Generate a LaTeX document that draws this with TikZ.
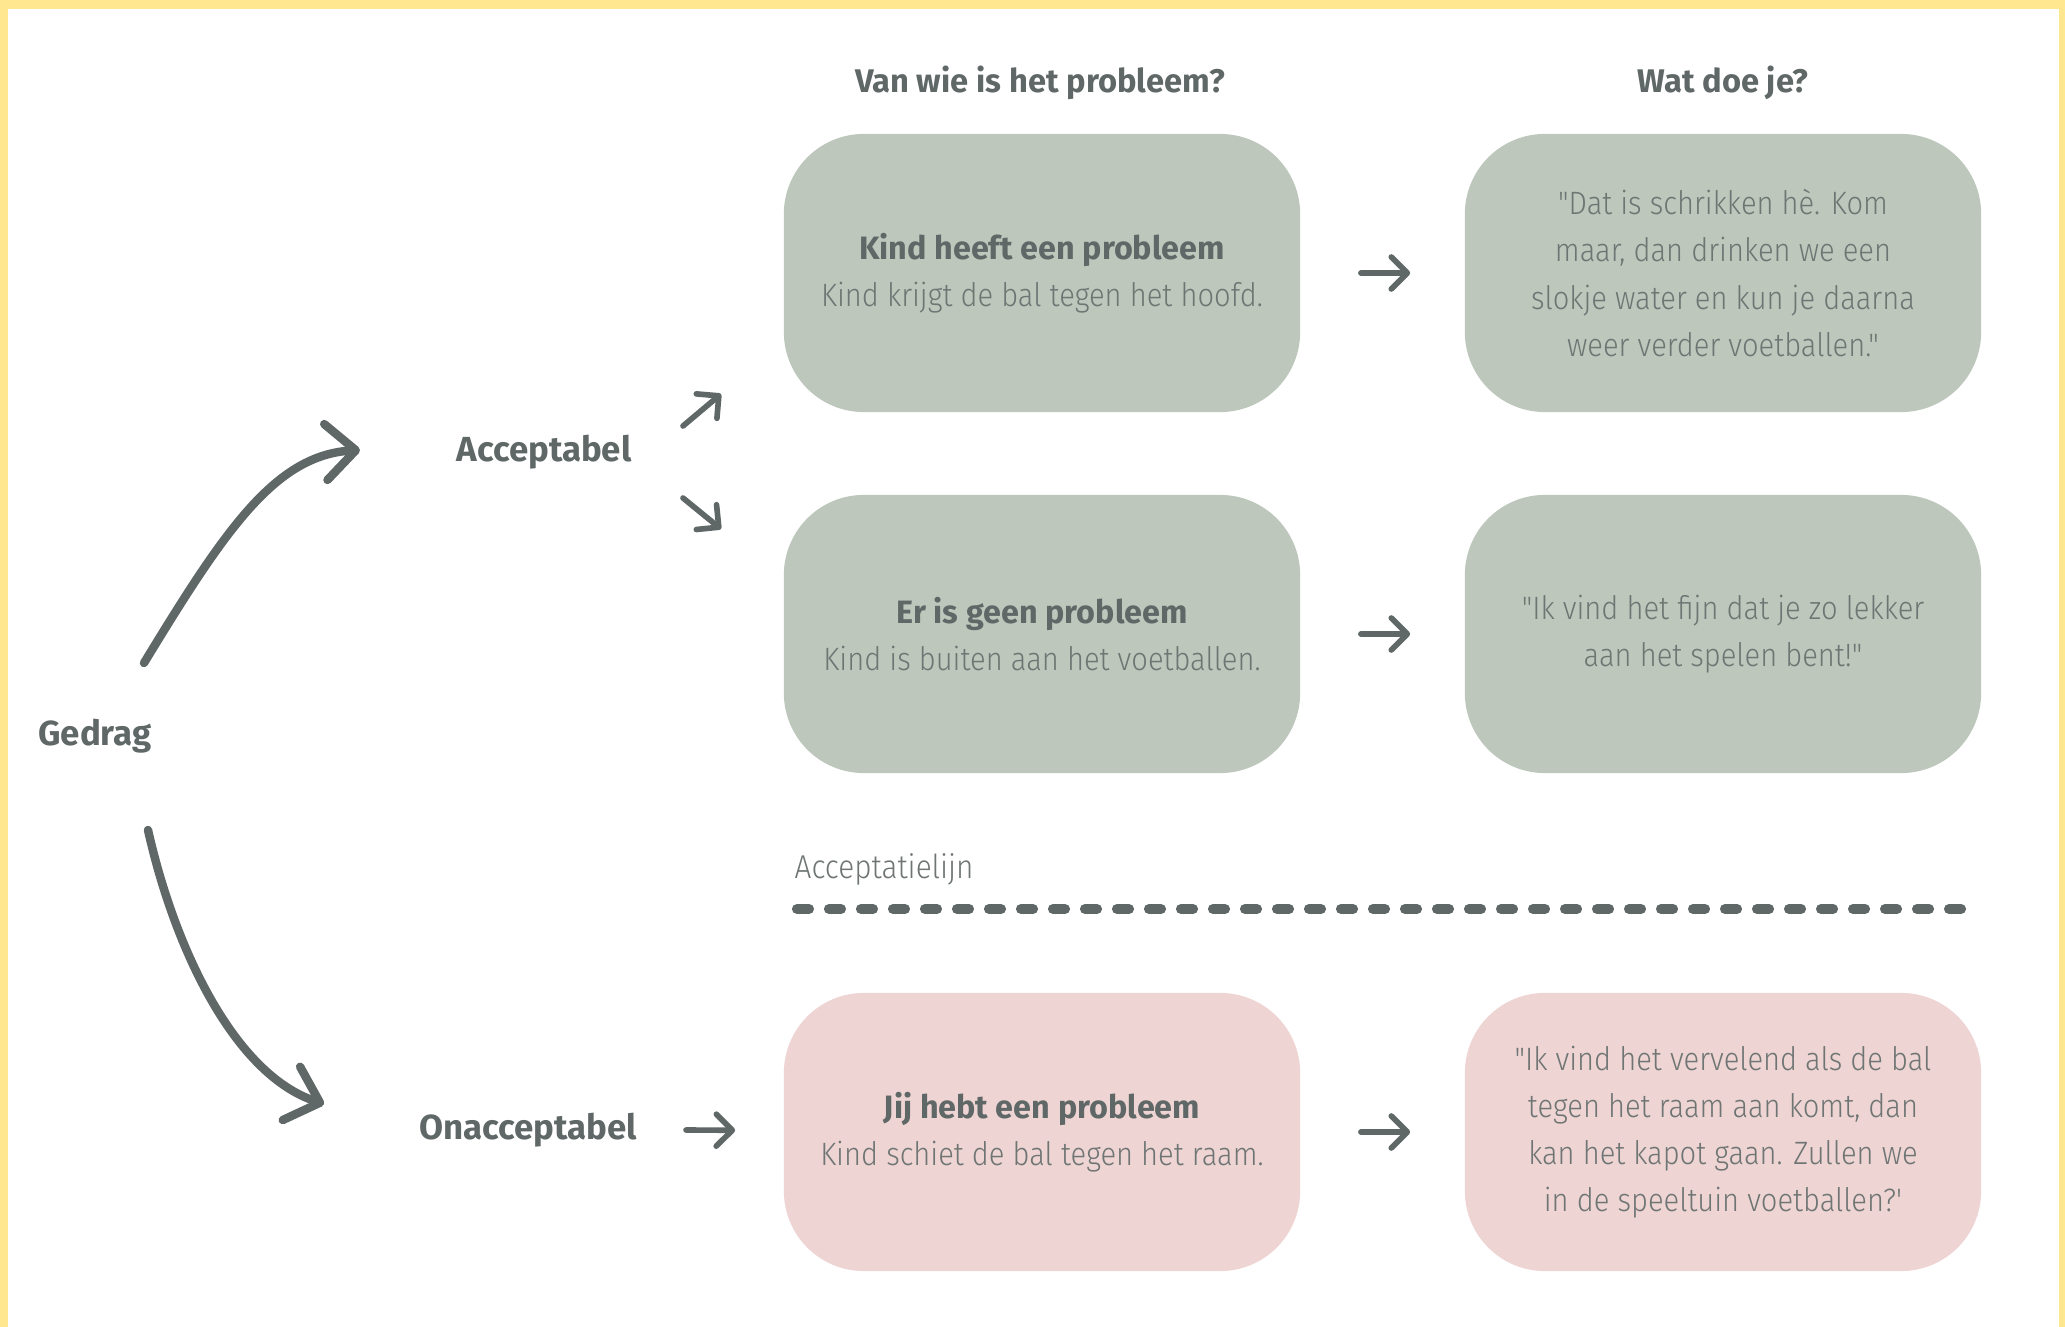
\documentclass[tikz,border=0pt]{standalone}
\usepackage{fontspec}
\setmainfont{Fira Sans}
\newfontfamily\thinfont{Fira Sans Light}[FakeStretch=0.9]
\usetikzlibrary{arrows.meta}
\definecolor{paleyellow}{HTML}{FEE78F}
\definecolor{sagegreen}{HTML}{BDC7BC}
\definecolor{rosepink}{HTML}{EED4D3}
\definecolor{inkgray}{HTML}{5F6867}
\definecolor{softgray}{HTML}{6E7573}
\newcommand{\boldline}{\normalfont\bfseries\color{inkgray}\fontsize{9.2}{13.4}\selectfont}

\tikzset{
  probbox/.style={fill=sagegreen, rounded corners=0.8cm, minimum width=5.16cm,
    minimum height=2.78cm, align=center, text=softgray,
    font=\thinfont\fontsize{9.2}{13.4}\selectfont},
  badbox/.style={probbox, fill=rosepink},
  headtext/.style={text=inkgray, font=\bfseries\fontsize{9.3}{11}\selectfont},
  stagetext/.style={text=inkgray, font=\bfseries\fontsize{9.9}{12}\selectfont},
  smallarrow/.style={draw=inkgray, line width=1.6pt, line cap=round,
    -{Straight Barb[length=1.6mm, width=3.2mm, round]}},
  bigarrow/.style={draw=inkgray, line width=2.4pt, line cap=round,
    -{Straight Barb[length=3mm, width=5.6mm, round]}},
}

\begin{document}
\begin{tikzpicture}[x=0.01cm, y=-0.01cm]
\fill[paleyellow] (0,0) rectangle (2065,1327);
\fill[white] (8,9) rectangle (2059,1327);
\useasboundingbox (0,0) rectangle (2065,1327);

\node[headtext] (qwho) at (1040,83) {Van wie is het probleem?};
\node[headtext] (qwhat) at (1723,83) {Wat doe je?};

\node[probbox] (prob1) at (1042,273) {{\boldline Kind heeft een probleem}\\Kind krijgt de bal tegen het hoofd.};
\node[probbox] (say1) at (1723,273) {"Dat is schrikken hè. Kom\\maar, dan drinken we een\\slokje water en kun je daarna\\weer verder voetballen."};
\node[probbox] (prob2) at (1042,634) {{\boldline Er is geen probleem}\\Kind is buiten aan het voetballen.};
\node[probbox] (say2) at (1723,634) {"Ik vind het fijn dat je zo lekker\\aan het spelen bent!"};
\node[badbox] (prob3) at (1042,1132) {{\boldline Jij hebt een probleem}\\Kind schiet de bal tegen het raam.};
\node[badbox] (say3) at (1723,1132) {"Ik vind het vervelend als de bal\\tegen het raam aan komt, dan\\kan het kapot gaan. Zullen we\\in de speeltuin voetballen?'};

\foreach \r in {1,2,3}
  \draw[smallarrow, shorten <=0.6cm, shorten >=0.54cm] (prob\r) -- (say\r);

\node[stagetext] (gedrag) at (95,736) {Gedrag};
\node[stagetext] (accept) at (544,452) {Acceptabel};
\node[stagetext] (onaccept) at (528,1130) {Onacceptabel};

\coordinate (up1) at (683,426);
\coordinate (up2) at (721,394);
\coordinate (dn1) at (683,498);
\coordinate (dn2) at (721,529);
\coordinate (on1) at (686,1130);
\draw[smallarrow] (up1) -- (up2);
\draw[smallarrow] (dn1) -- (dn2);
\draw[smallarrow, shorten >=0.48cm] (on1) -- (prob3);

\coordinate (g1) at (144,663);
\coordinate (g2) at (360,450);
\coordinate (g3) at (148,830);
\coordinate (g4) at (324,1104);
\draw[bigarrow] (g1) .. controls (225,530) and (275,455) .. (g2);
\draw[bigarrow] (g3) .. controls (175,950) and (235,1075) .. (g4);

\node[anchor=west, inner sep=0, text=softgray, font=\thinfont\fontsize{9.4}{11}\selectfont] (acclijn) at (794,869) {Acceptatielijn};
\draw[inkgray, line width=2.9pt, line cap=round, dash pattern=on 3.4pt off 5.7pt] (797,909) -- (1969,909);
\end{tikzpicture}
\end{document}
